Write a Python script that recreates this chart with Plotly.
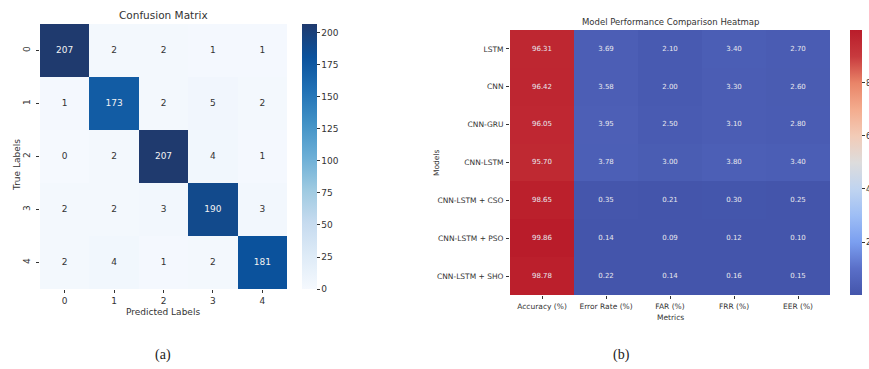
import plotly.graph_objects as go

# ---- data -------------------------------------------------------------
class_labels = [0, 1, 2, 3, 4]
confusion = [
    [207, 2, 2, 1, 1],
    [1, 173, 2, 5, 2],
    [0, 2, 207, 4, 1],
    [2, 2, 3, 190, 3],
    [2, 4, 1, 2, 181],
]

models = ["LSTM", "CNN", "CNN-GRU", "CNN-LSTM",
          "CNN-LSTM + CSO", "CNN-LSTM + PSO", "CNN-LSTM + SHO"]
metrics = ["Accuracy (%)", "Error Rate (%)", "FAR (%)", "FRR (%)", "EER (%)"]
accuracy = [96.31, 96.42, 96.05, 95.70, 98.65, 99.86, 98.78]
error_rate = [3.69, 3.58, 3.95, 3.78, 0.35, 0.14, 0.22]
far = [2.10, 2.00, 2.50, 3.00, 0.21, 0.09, 0.14]
frr = [3.40, 3.30, 3.10, 3.80, 0.30, 0.12, 0.16]
eer = [2.70, 2.60, 2.80, 3.40, 0.25, 0.10, 0.15]

W, H = 869, 369
FONT = "DejaVu Sans"

def px_x(p):
    return p / W

def px_y(p):
    return 1 - p / H

blues = ["#f5f9fe", "#deebf7", "#c6dbef", "#9ecae1", "#6baed6",
         "#4292c6", "#2171b5", "#0b529c", "#1f3a6e"]
blues_scale = [[i / 8, c] for i, c in enumerate(blues)]
coolwarm = ["#4455ab", "#5a6fc8", "#7b9ff0", "#9ebef5", "#c0d4f0", "#dddcdc",
            "#f2cbb7", "#f4ac8e", "#e98468", "#c83a3e", "#b91c2a"]
coolwarm_scale = [[i / 10, c] for i, c in enumerate(coolwarm)]

fig = go.Figure()

# ---- (a) confusion matrix --------------------------------------------
cm_max = max(max(r) for r in confusion)
cm_min = min(min(r) for r in confusion)
fig.add_trace(go.Heatmap(
    z=confusion, x=class_labels, y=class_labels,
    colorscale=blues_scale, zmin=cm_min, zmax=cm_max,
    xaxis="x", yaxis="y", hoverinfo="skip",
    colorbar=dict(
        x=px_x(302), xanchor="left", xpad=0,
        y=px_y(24), yanchor="top", ypad=0,
        lenmode="pixels", len=265, thickness=15,
        outlinewidth=0, ticks="outside", ticklen=3, tickcolor="#333",
        tickvals=[0, 25, 50, 75, 100, 125, 150, 175, 200],
        tickfont=dict(family=FONT, size=9, color="#333"),
    ),
))
cx, cy, ct, cc = [], [], [], []
for i, row in enumerate(confusion):
    for j, v in enumerate(row):
        cx.append(class_labels[j]); cy.append(class_labels[i]); ct.append(str(v))
        cc.append("#f2f2f2" if v > cm_max * 0.5 else "#333333")
fig.add_trace(go.Scatter(
    x=cx, y=cy, text=ct, mode="text", xaxis="x", yaxis="y",
    textfont=dict(family=FONT, size=9, color=cc), hoverinfo="skip",
    showlegend=False,
))

# ---- (b) model comparison --------------------------------------------
columns = [accuracy, error_rate, far, frr, eer]
perf = [[col[r] for col in columns] for r in range(len(models))]
flat = [v for r in perf for v in r]
fig.add_trace(go.Heatmap(
    z=perf, x=metrics, y=models,
    colorscale=coolwarm_scale, zmin=min(flat), zmax=max(flat),
    xaxis="x2", yaxis="y2", hoverinfo="skip",
    colorbar=dict(
        x=px_x(850), xanchor="left", xpad=0,
        y=px_y(30), yanchor="top", ypad=0,
        lenmode="pixels", len=265, thickness=12,
        outlinewidth=0, ticks="outside", ticklen=3, tickcolor="#333",
        tickvals=[20, 40, 60, 80],
        tickfont=dict(family=FONT, size=8, color="#333"),
    ),
))
px_, py_, pt_ = [], [], []
for i, m in enumerate(models):
    for j, k in enumerate(metrics):
        px_.append(k); py_.append(m); pt_.append(f"{perf[i][j]:.2f}")
fig.add_trace(go.Scatter(
    x=px_, y=py_, text=pt_, mode="text", xaxis="x2", yaxis="y2",
    textfont=dict(family=FONT, size=7, color="#e8e8ee"), hoverinfo="skip",
    showlegend=False,
))

axis_common = dict(showgrid=False, zeroline=False, showline=False,
                   ticks="outside", ticklen=3, tickcolor="#333")

fig.update_layout(
    width=W, height=H,
    margin=dict(l=0, r=0, t=0, b=0, autoexpand=False),
    paper_bgcolor="white", plot_bgcolor="white", showlegend=False,
    font=dict(family=FONT, color="#333"),
    xaxis=dict(domain=[px_x(40), px_x(287)], anchor="y",
               tickvals=class_labels, ticklabelstandoff=0,
               tickfont=dict(size=9, family=FONT), **axis_common),
    yaxis=dict(domain=[px_y(289), px_y(24)], anchor="x",
               tickvals=class_labels, autorange="reversed", tickangle=-90,
               ticklabelstandoff=2,
               tickfont=dict(size=9, family=FONT), **axis_common),
    xaxis2=dict(domain=[px_x(510), px_x(830)], anchor="y2",
                ticklabelstandoff=1,
                tickfont=dict(size=7.5, family=FONT), **axis_common),
    yaxis2=dict(domain=[px_y(295), px_y(30)], anchor="x2",
                autorange="reversed", ticklabelstandoff=1,
                tickfont=dict(size=7.5, family=FONT), **axis_common),
)

def note(text, x, y, size, angle=0, family=FONT, color="#333"):
    fig.add_annotation(text=text, x=px_x(x), y=px_y(y), xref="paper",
                       yref="paper", showarrow=False, textangle=angle,
                       font=dict(family=family, size=size, color=color),
                       xanchor="center", yanchor="middle")

note("Confusion Matrix", 163, 15, 10.5)
note("Predicted Labels", 163, 312, 9)
note("True Labels", 17, 165, 9, angle=-90)
note("Model Performance Comparison Heatmap", 670, 22, 8.5)
note("Metrics", 670, 317, 7.5)
note("Models", 436, 163, 7.5, angle=-90)
note("(a)", 163, 355, 14, family="Liberation Serif", color="#222")
note("(b)", 621, 355, 14, family="Liberation Serif", color="#222")

fig.write_html("out.html")
